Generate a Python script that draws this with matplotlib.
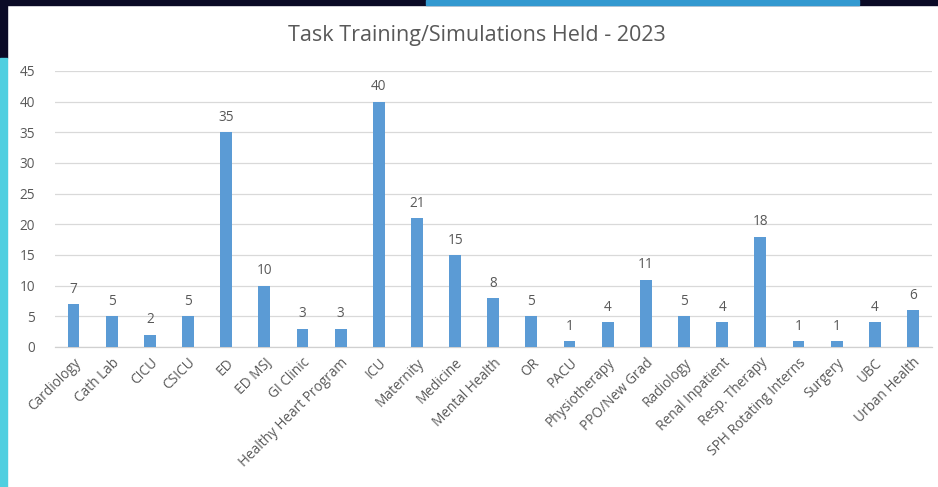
import numpy as np
import matplotlib
matplotlib.use('Agg')
import matplotlib.pyplot as plt
from matplotlib.patches import Rectangle

plt.rcParams['font.family'] = ['Open Sans', 'DejaVu Sans']

# ── Data ──────────────────────────────────────────────────────────────────────
departments = ['Cardiology', 'Cath Lab', 'CICU', 'CSICU', 'ED', 'ED MSJ', 'GI Clinic',
               'Healthy Heart Program', 'ICU', 'Maternity', 'Medicine', 'Mental Health',
               'OR', 'PACU', 'Physiotherapy', 'PPO/New Grad', 'Radiology',
               'Renal Inpatient', 'Resp. Therapy', 'SPH Rotating Interns', 'Surgery',
               'UBC', 'Urban Health']
sessions = [7, 5, 2, 5, 35, 10, 3, 3, 40, 21, 15, 8, 5, 1, 4, 11, 5, 4, 18, 1, 1, 4, 6]
y_ticks = [0, 5, 10, 15, 20, 25, 30, 35, 40, 45]

TXT = '#595959'
BAR = '#5B9BD5'

fig = plt.figure(figsize=(9.38, 4.87), dpi=100)
W, H = 938, 487

# slide decorations
fig.patches.append(Rectangle((0, 1 - 5 / H), 1, 5 / H, transform=fig.transFigure,
                             color='#0a0a26', zorder=0))
fig.patches.append(Rectangle((426 / W, 1 - 5 / H), (859 - 426) / W, 5 / H,
                             transform=fig.transFigure, color='#3399d0', zorder=1))
fig.patches.append(Rectangle((0, 1 - 58 / H), 7 / W, 58 / H, transform=fig.transFigure,
                             color='#0a0a26', zorder=0))
fig.patches.append(Rectangle((0, 0), 7 / W, 1 - 58 / H, transform=fig.transFigure,
                             color='#4fcfe0', zorder=0))

ax = fig.add_axes([54.5 / W, 1 - 347 / H, (932 - 54.5) / W, (347 - 71) / H])
x = np.arange(len(departments))
ax.bar(x, sessions, width=0.31, color=BAR, zorder=3)
for xi, v in zip(x, sessions):
    ax.text(xi, v + 1.2, str(v), ha='center', va='bottom', fontsize=9.8, color=TXT)

ax.set_xlim(-0.5, len(departments) - 0.5)
ax.set_ylim(0, 45)
ax.set_yticks(y_ticks)
ax.set_yticklabels([str(t) for t in y_ticks], fontsize=9.8, color=TXT)
ax.set_xticks(x)
ax.set_xticklabels(departments, rotation=45, ha='right', rotation_mode='anchor',
                   fontsize=9.8, color=TXT)
ax.tick_params(axis='both', length=0)
ax.tick_params(axis='y', pad=14)
ax.tick_params(axis='x', pad=6)
ax.grid(axis='y', color='#d9d9d9', linewidth=0.9, zorder=0)
for s in ['top', 'right', 'left']:
    ax.spines[s].set_visible(False)
ax.spines['bottom'].set_color('#d0d0d0')
ax.spines['bottom'].set_linewidth(0.9)

fig.text(0.508, 1 - 35 / H, 'Task Training/Simulations Held - 2023', ha='center',
         va='center', fontsize=15.5, color=TXT)

fig.savefig('out.png', dpi=100)
